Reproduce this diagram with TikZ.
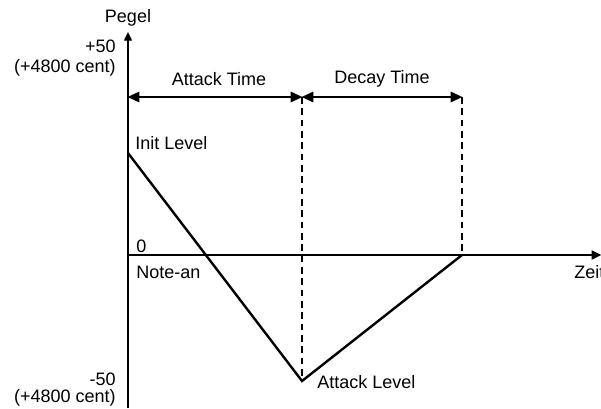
\documentclass[tikz,border=0pt]{standalone}
\usepackage{fontspec}
\setmainfont{Liberation Sans}
\usetikzlibrary{arrows.meta, positioning}

\begin{document}
\begin{tikzpicture}[
        x=0.75pt,
        y=-0.75pt,
        axis/.style={line width=1pt, -{Triangle[length=6.5pt, width=6pt]}},
        span/.style={line width=2.2pt, {Triangle[length=9pt, width=7.5pt]}-{Triangle[length=9pt, width=7.5pt]}, shorten <=-0.5pt, shorten >=-0.5pt},
        guide/.style={line width=0.8pt, dash pattern=on 5pt off 3.5pt},
        env/.style={line width=1.8pt, line join=miter},
        lbl/.style={font=\fontsize{13.5}{15}\selectfont, inner sep=0pt}
    ]
        \useasboundingbox (0,0) rectangle (601,408);

        % axes
        \coordinate (origin) at (128,255);
        \coordinate (ybot) at (128,408);
        \coordinate (ytop) at (128,32);
        \coordinate (xend) at (601,255);
        \draw[axis] (ybot) -- (ytop);
        \draw[axis] (origin) -- (xend);

        % time marks
        \coordinate (tA0) at (128,97);
        \coordinate (tA1) at (302,97);
        \coordinate (tD1) at (462,97);
        \coordinate (lvlA) at (302,381);
        \coordinate (lvlD) at (462,255);
        \coordinate (lvlI) at (128,153);
        \draw[guide] (tA1) -- (lvlA);
        \draw[guide] (tD1) -- (lvlD);
        \draw[span] (tA0) -- (tA1);
        \draw[span] (tA1) -- (tD1);

        % envelope
        \draw[env] (lvlI) -- (lvlA) -- (lvlD);
        \draw[env, -{Triangle[length=7pt, width=6.5pt]}] (lvlD) -- (xend);

        % labels
        \node[lbl] (pegel) at (128,18) {Pegel};
        \node[lbl, anchor=east, align=right] (plus) at (116,58) {+50\\(+4800 cent)};
        \node[lbl, anchor=east, align=right, font=\fontsize{13.5}{12.75}\selectfont] (minus) at (116,390) {-50\\(+4800 cent)};
        \node[lbl] (atime) at (219,79) {Attack Time};
        \node[lbl] (dtime) at (382,79) {Decay Time};
        \node[lbl, anchor=west] (init) at (135,143) {Init Level};
        \node[lbl, anchor=west] (zero) at (136,246) {0};
        \node[lbl, anchor=west] (notean) at (136,272) {Note-an};
        \node[lbl, anchor=west] (zeit) at (574,272) {Zeit};
        \node[lbl, anchor=west] (alevel) at (317,382) {Attack Level};
    \end{tikzpicture}
\end{document}
